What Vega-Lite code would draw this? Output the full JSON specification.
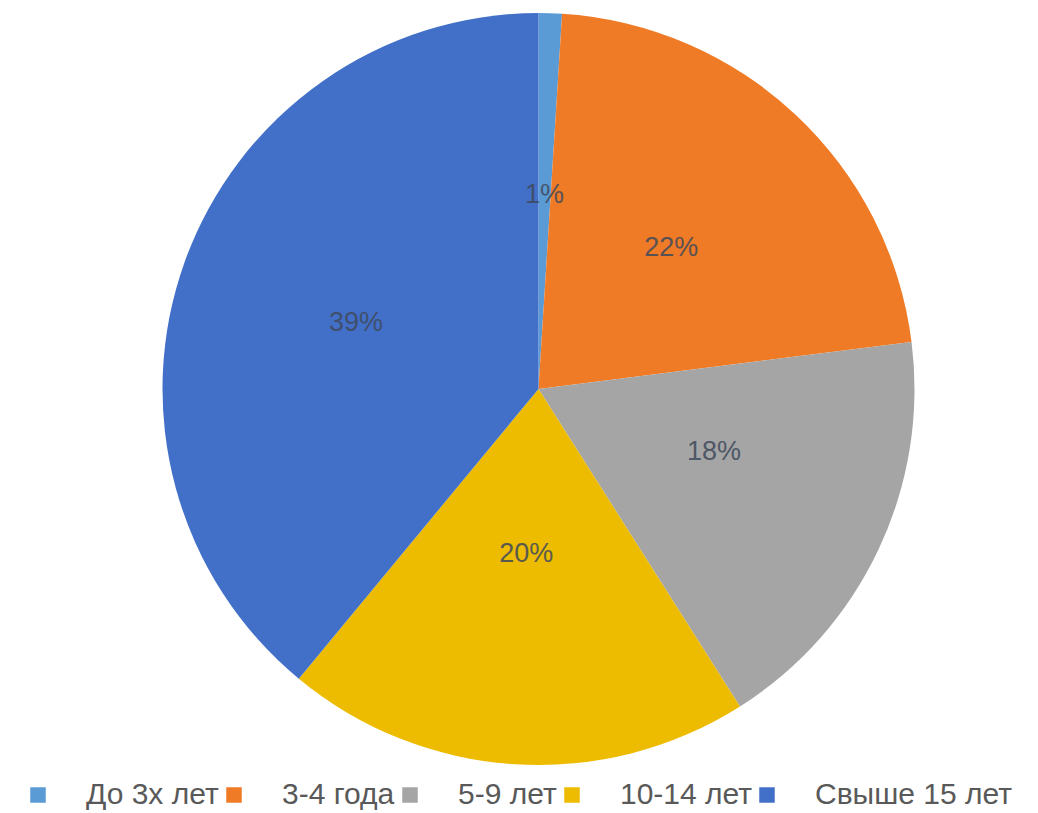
{
  "$schema": "https://vega.github.io/schema/vega-lite/v6.json",
  "width": 1077,
  "height": 778,
  "padding": {"top": 0, "left": 0, "right": 0, "bottom": 35},
  "autosize": {"type": "none"},
  "background": "white",
  "data": {
    "values": [
      {"group": "До 3х лет", "share": 1, "label": "1%", "order": 1},
      {"group": "3-4 года", "share": 22, "label": "22%", "order": 2},
      {"group": "5-9 лет", "share": 18, "label": "18%", "order": 3},
      {"group": "10-14 лет", "share": 20, "label": "20%", "order": 4},
      {"group": "Свыше 15 лет", "share": 39, "label": "39%", "order": 5}
    ]
  },
  "encoding": {
    "theta": {"field": "share", "type": "quantitative", "stack": true},
    "order": {"field": "order", "type": "quantitative"}
  },
  "layer": [
    {
      "mark": {"type": "arc", "outerRadius": 376},
      "encoding": {
        "color": {
          "field": "group",
          "type": "nominal",
          "sort": ["До 3х лет", "3-4 года", "5-9 лет", "10-14 лет", "Свыше 15 лет"],
          "scale": {
            "domain": ["До 3х лет", "3-4 года", "5-9 лет", "10-14 лет", "Свыше 15 лет"],
            "range": ["#5B9BD5", "#F07B26", "#A5A5A5", "#EDBB00", "#4270C8"]
          },
          "legend": {
            "title": null,
            "orient": "none",
            "legendX": 23,
            "legendY": 780,
            "direction": "horizontal",
            "symbolType": "square",
            "symbolSize": 240,
            "symbolStrokeWidth": 0,
            "labelFont": "Liberation Sans",
            "labelFontSize": 30,
            "labelColor": "#595959",
            "labelOffset": 33,
            "labelLimit": 300,
            "columnPadding": 0
          }
        }
      }
    },
    {
      "mark": {"type": "text", "radius": 194, "font": "Liberation Sans", "fontSize": 27, "fill": "#404a5c", "opacity": 0.85},
      "encoding": {
        "text": {"condition": {"test": "datum.order == 1 || datum.order == 2 || datum.order == 5", "field": "label"}, "value": ""}
      }
    },
    {
      "mark": {"type": "text", "radius": 194, "dy": -20, "font": "Liberation Sans", "fontSize": 27, "fill": "#404a5c", "opacity": 0.85},
      "encoding": {
        "text": {"condition": {"test": "datum.order == 3", "field": "label"}, "value": ""}
      }
    },
    {
      "mark": {"type": "text", "radius": 194, "dy": -29, "font": "Liberation Sans", "fontSize": 27, "fill": "#404a5c", "opacity": 0.85},
      "encoding": {
        "text": {"condition": {"test": "datum.order == 4", "field": "label"}, "value": ""}
      }
    }
  ]
}
